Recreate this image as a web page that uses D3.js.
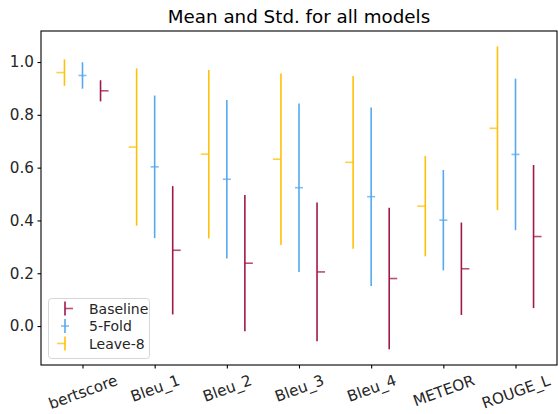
<!DOCTYPE html>
<html><head><meta charset="utf-8">
<script src="https://cdn.jsdelivr.net/npm/d3@7/dist/d3.min.js"></script>
<style>body{margin:0;background:#fff}svg{display:block;font-family:"DejaVu Sans",sans-serif}</style>
</head><body><svg id="c" width="558" height="414"></svg>
<script>
const categories = ["bertscore","Bleu_1","Bleu_2","Bleu_3","Bleu_4","METEOR","ROUGE_L"];
const seriesNames = ["Baseline","5-Fold","Leave-8"];
const baselineMean = [0.891,0.287,0.238,0.205,0.180,0.217,0.339];
const baselineStd  = [0.040,0.243,0.258,0.263,0.268,0.175,0.271];
const foldMean     = [0.949,0.603,0.556,0.524,0.490,0.401,0.650];
const foldStd      = [0.050,0.270,0.300,0.319,0.338,0.190,0.287];
const leaveMean    = [0.960,0.678,0.651,0.632,0.620,0.454,0.749];
const leaveStd     = [0.050,0.298,0.319,0.325,0.327,0.190,0.310];
const yTicks = [0.0,0.2,0.4,0.6,0.8,1.0];

const colors = {"Baseline":"#a0184a","5-Fold":"#56a9ef","Leave-8":"#ffc107"};
const offsets = {"Baseline":0.25,"5-Fold":0,"Leave-8":-0.25};
const markerType = {"Baseline":"right","5-Fold":"center","Leave-8":"left"};
const series = [
  {name:"Baseline", mean:baselineMean, std:baselineStd},
  {name:"5-Fold", mean:foldMean, std:foldStd},
  {name:"Leave-8", mean:leaveMean, std:leaveStd}
];

const FS = 15.2, TFS = 18.3;
const L=41, T=31, R=557, B=365;
const svg = d3.select("#c");
const x = d3.scaleLinear().domain([-0.575, 6.575]).range([L,R]);
const y = d3.scaleLinear().domain([-0.1475, 1.1175]).range([B,T]);

function markerPath(t, cx, cy){
  const m = 8;
  if(t==="right") return `M${cx},${cy}H${cx+m}`;
  if(t==="left") return `M${cx-m},${cy}H${cx}`;
  return `M${cx-m/2},${cy}H${cx+m/2}`;
}

// error bars
series.forEach(s=>{
  const g = svg.append("g");
  categories.forEach((c,i)=>{
    const cx = x(i+offsets[s.name]);
    g.append("line").attr("x1",cx).attr("x2",cx)
      .attr("y1",y(s.mean[i]-s.std[i])).attr("y2",y(s.mean[i]+s.std[i]))
      .attr("stroke",colors[s.name]).attr("stroke-width",1.6);
    g.append("path").attr("d",markerPath(markerType[s.name],cx,y(s.mean[i])))
      .attr("stroke",colors[s.name]).attr("stroke-width",1.6).attr("opacity",0.75);
  });
});

// axes
const ya = svg.append("g").attr("transform",`translate(${L},0)`)
  .call(d3.axisLeft(y).tickValues(yTicks).tickFormat(d3.format(".1f")).tickSize(3.5).tickPadding(3.5));
const xa = svg.append("g").attr("transform",`translate(0,${B})`)
  .call(d3.axisBottom(x).tickValues(d3.range(categories.length)).tickFormat(i=>categories[i]).tickSize(3.5).tickPadding(3.5));
[ya,xa].forEach(a=>{
  a.select(".domain").remove();
  a.selectAll(".tick line").attr("stroke","#000").attr("stroke-width",1.1);
  a.selectAll("text").attr("fill","#262626").style("font-size",FS+"px").style("font-family","DejaVu Sans");
});
// rotate x labels
xa.selectAll(".tick text").each(function(){
  const t = d3.select(this);
  const w = this.getComputedTextLength();
  const h = FS*1.1;
  const a = 20*Math.PI/180;
  const bh = w*Math.sin(a)+h*Math.cos(a);
  const cy = 7 + bh/2;
  t.attr("y",null).attr("dy",null).attr("text-anchor","middle").attr("dominant-baseline","central")
   .attr("transform",`translate(0,${cy}) rotate(-20)`);
});

// frame
svg.append("rect").attr("x",L).attr("y",T).attr("width",R-L).attr("height",B-T)
  .attr("fill","none").attr("stroke","#000").attr("stroke-width",1.1);

// title
svg.append("text").attr("x",(L+R)/2).attr("y",23).attr("text-anchor","middle")
  .style("font-size",TFS+"px").attr("fill","#000").text("Mean and Std. for all models");

// legend
const lg = svg.append("g");
lg.append("rect").attr("x",48.5).attr("y",298.5).attr("width",101).attr("height",60).attr("rx",3)
  .attr("fill","#fff").attr("fill-opacity",0.8).attr("stroke","#d6d6d6").attr("stroke-width",1);
seriesNames.forEach((n,k)=>{
  const cy = 308.5 + k*17.5;
  const hx = 65;
  lg.append("line").attr("x1",hx).attr("x2",hx).attr("y1",cy-7).attr("y2",cy+7)
    .attr("stroke",colors[n]).attr("stroke-width",1.6);
  lg.append("path").attr("d",markerPath(markerType[n],hx,cy))
    .attr("stroke",colors[n]).attr("stroke-width",1.6).attr("opacity",0.75);
  lg.append("text").attr("x",89).attr("y",cy).attr("dominant-baseline","central")
    .style("font-size",(FS-1.2)+"px").attr("fill","#262626").text(n);
});
</script></body></html>
